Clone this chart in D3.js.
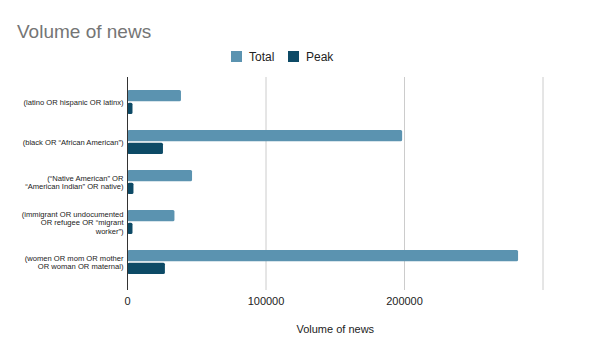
<!DOCTYPE html>
<html>
<head>
<meta charset="utf-8">
<script src="https://cdn.jsdelivr.net/npm/d3@7"></script>
<style>
  body { margin: 0; background: #fff; }
  text { font-family: "Liberation Sans", Arial, sans-serif; }
</style>
</head>
<body>
<div id="main"></div>
<script>
var categories = [
  ["(latino OR hispanic OR latinx)"],
  ["(black OR \u201cAfrican American\u201d)"],
  ["(\u201cNative American\u201d OR", "\u201cAmerican Indian\u201d OR native)"],
  ["(immigrant OR undocumented", "OR refugee OR \u201cmigrant", "worker\u201d)"],
  ["(women OR mom OR mother", "OR woman OR maternal)"]
];
var totalValues = [38600, 198300, 46600, 33900, 282000];
var peakValues = [3600, 25600, 4300, 3600, 27000];
var seriesNames = ["Total", "Peak"];
var xTicks = [0, 100000, 200000, 300000];

var outerWidth = 604, outerHeight = 351;
var plotLeft = 127.5, plotRight = 543, plotTop = 77, plotBottom = 290;
var colors = {Total: "#5b93b0", Peak: "#0d4a66"};

var svg = d3.select("#main").append("svg")
  .attr("width", outerWidth)
  .attr("height", outerHeight);

var xScale = d3.scaleLinear().domain([0, 300000]).range([plotLeft, plotRight]);
var yScale = d3.scaleBand().domain(d3.range(categories.length)).range([82, 282]);
var subScale = d3.scaleBand().domain(seriesNames).range([0, 24]).paddingInner(0.1);

// title
svg.append("text")
  .attr("x", 17).attr("y", 38)
  .attr("font-size", 19).attr("fill", "#757575")
  .text("Volume of news");

// legend
var legend = svg.selectAll(".legend").data(seriesNames).enter().append("g")
  .attr("transform", (d, i) => "translate(" + (231 + i * 57) + ",51)");
legend.append("rect").attr("width", 11).attr("height", 11).attr("fill", d => colors[d]);
legend.append("text").attr("x", 18).attr("y", 10).attr("font-size", 12).attr("fill", "#222").text(d => d);

// gridlines
svg.selectAll(".grid").data(xTicks.slice(1)).enter().append("line")
  .attr("x1", d => xScale(d)).attr("x2", d => xScale(d))
  .attr("y1", plotTop).attr("y2", plotBottom)
  .attr("stroke", "#cccccc").attr("stroke-width", 1);

// bars
var rows = categories.map((c, i) => ({i: i, Total: totalValues[i], Peak: peakValues[i]}));
var groups = svg.selectAll(".grp").data(rows).enter().append("g")
  .attr("transform", d => "translate(0," + (yScale(d.i) + (yScale.bandwidth() - 24) / 2) + ")");

groups.selectAll("rect").data(d => seriesNames.map(s => ({s: s, v: d[s]}))).enter().append("rect")
  .attr("x", xScale(0))
  .attr("y", d => subScale(d.s))
  .attr("width", d => xScale(d.v) - xScale(0))
  .attr("height", subScale.bandwidth())
  .attr("rx", 1.5)
  .attr("fill", d => colors[d.s]);

// baseline axis
svg.append("line")
  .attr("x1", plotLeft).attr("x2", plotLeft)
  .attr("y1", plotTop).attr("y2", plotBottom)
  .attr("stroke", "#333").attr("stroke-width", 1);

// category labels
var lineH = 8.5;
svg.selectAll(".cat").data(categories).enter().append("text")
  .attr("text-anchor", "end")
  .attr("font-size", 7.6)
  .attr("fill", "#222")
  .each(function (lines, i) {
    var cy = yScale(i) + yScale.bandwidth() / 2;
    var y0 = cy - (lines.length - 1) * lineH / 2 + 3;
    d3.select(this).selectAll("tspan").data(lines).enter().append("tspan")
      .attr("x", 123.5)
      .attr("y", (d, j) => y0 + j * lineH)
      .text(d => d);
  });

// x tick labels
svg.selectAll(".tick").data(xTicks.slice(0, 3)).enter().append("text")
  .attr("x", d => xScale(d)).attr("y", 305)
  .attr("text-anchor", "middle")
  .attr("font-size", 11).attr("fill", "#222")
  .text(d => d3.format("d")(d));

// axis title
svg.append("text")
  .attr("x", (plotLeft + plotRight) / 2).attr("y", 333)
  .attr("text-anchor", "middle")
  .attr("font-size", 11).attr("fill", "#222")
  .text("Volume of news");
</script>
</body>
</html>
